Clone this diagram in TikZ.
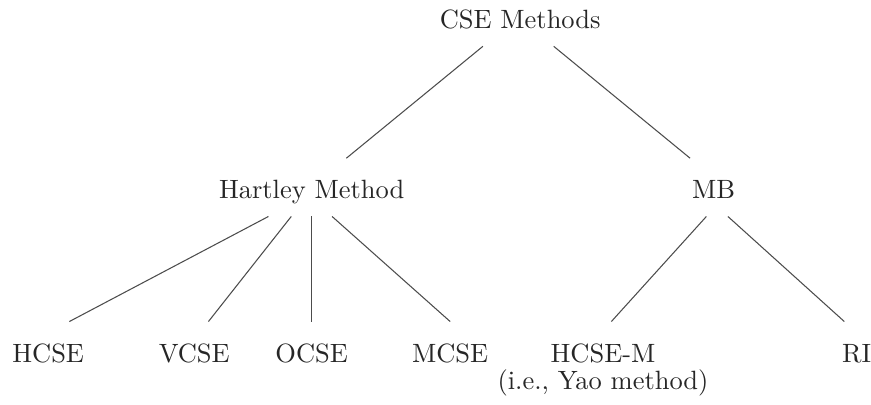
\documentclass[tikz,border=0pt]{standalone}
\usepackage{amsmath}
\usepackage{tikz}

\begin{document}
\begin{tikzpicture}[lbl/.style={anchor=base, text=black!85, text height=2ex, text depth=0pt, inner xsep=3.33pt, inner ysep=6.5pt},
branch/.style={draw=black!70, line width=0.4pt}]
\useasboundingbox (0,0) rectangle (11.57,5.38);
\node[lbl] (cse) at (6.91,5.0) {CSE Methods};
\node[lbl] (hart) at (4.14,2.74) {Hartley Method};
\node[lbl] (mb) at (9.48,2.74) {MB};
\node[lbl] (hcse) at (0.64,0.57) {HCSE};
\node[lbl] (vcse) at (2.58,0.57) {VCSE};
\node[lbl] (ocse) at (4.14,0.57) {OCSE};
\node[lbl] (mcse) at (5.98,0.57) {MCSE};
\node[lbl] (hcsem) at (8.01,0.57) {HCSE-M};
\node[lbl] (yao) at (8.01,0.20) {(i.e., Yao method)};
\node[lbl] (ri) at (11.38,0.57) {RI};
\draw[branch] (cse.218) -- (hart.40);
\draw[branch] (cse.-41) -- (mb.129);
\draw[branch] (hart.214) -- (hcse.54);
\draw[branch] (hart.235) -- (vcse.64);
\draw[branch] (hart) -- (ocse);
\draw[branch] (hart.-55) -- (mcse.north);
\draw[branch] (mb.256) -- (hcsem.74);
\draw[branch] (mb.-64) -- (ri.113);
\end{tikzpicture}
\end{document}
